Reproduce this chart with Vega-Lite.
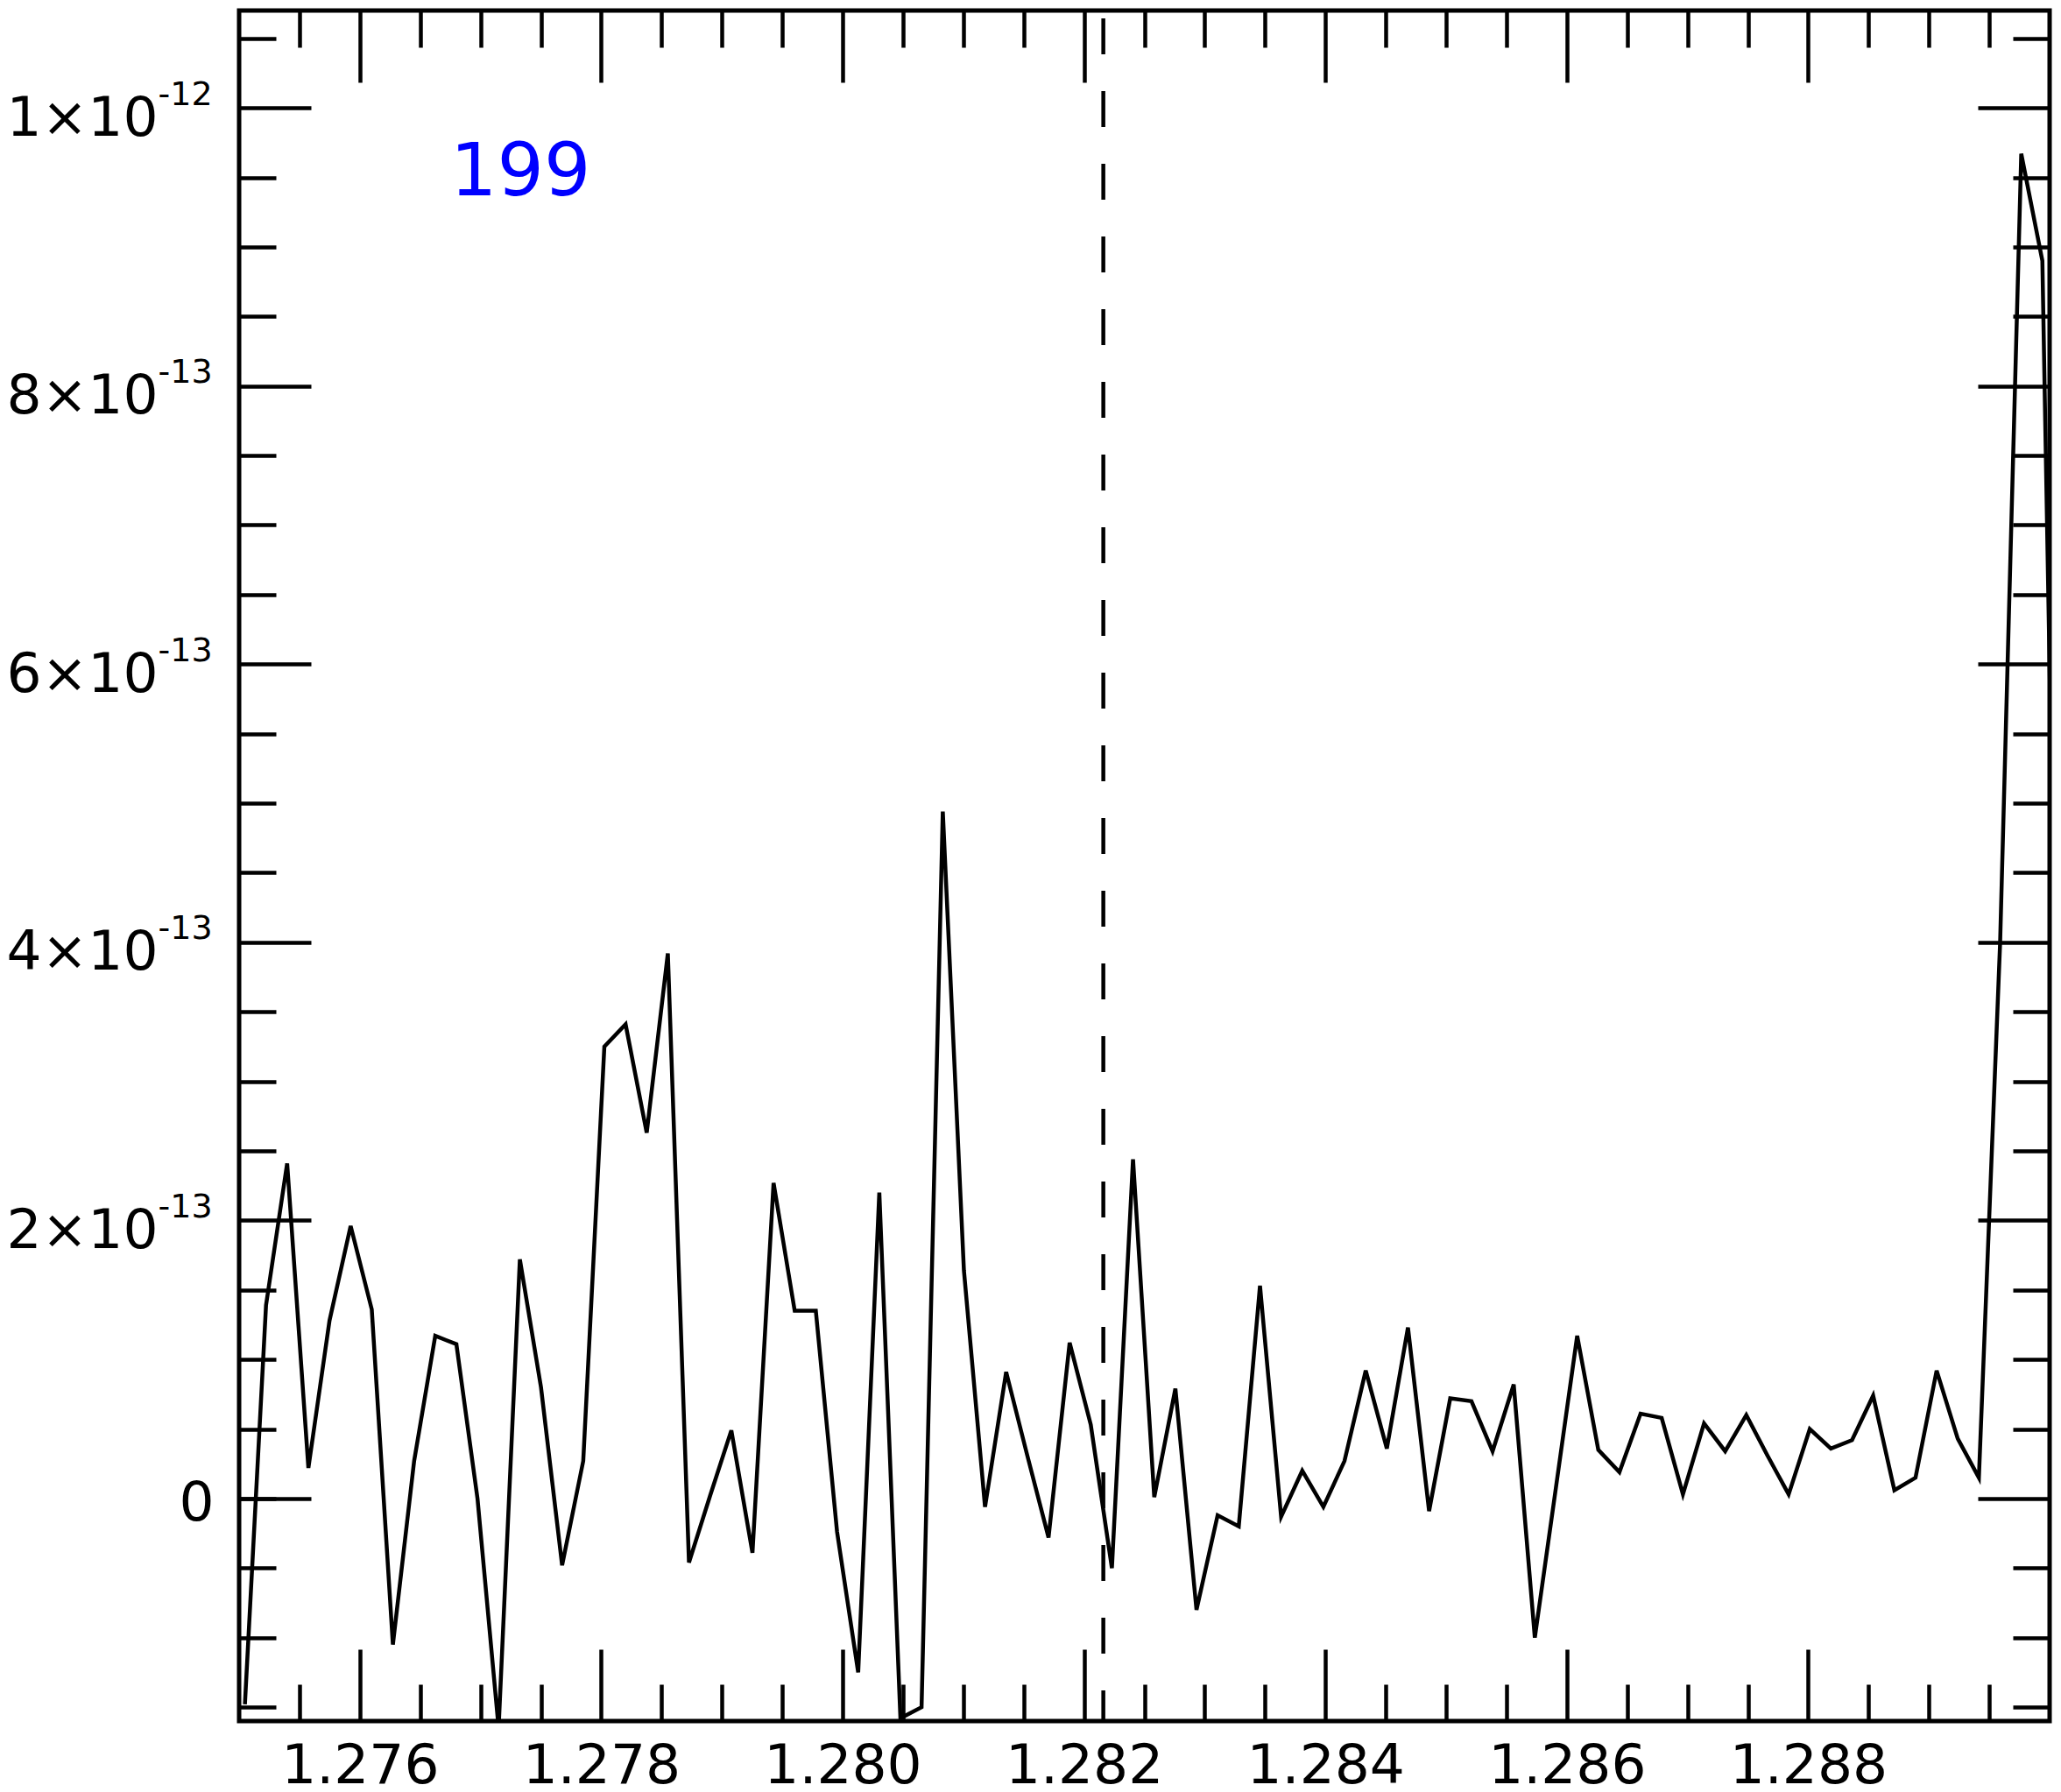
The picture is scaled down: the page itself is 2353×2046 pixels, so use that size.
{
  "$schema": "https://vega.github.io/schema/vega-lite/v6.json",
  "width": 2067,
  "height": 1953,
  "autosize": "none",
  "padding": {"left": 273, "top": 12, "right": 13, "bottom": 81},
  "background": "white",
  "config": {
    "view": {"stroke": "black", "strokeWidth": 5},
    "axis": {
      "title": null,
      "grid": false,
      "domain": false,
      "tickColor": "black",
      "tickWidth": 4.5,
      "labelFont": "DejaVu Sans",
      "labelFontSize": 63,
      "labelColor": "black",
      "labelFlush": false,
      "labelOverlap": false,
      "labelBound": false,
      "labelLimit": 1000
    }
  },
  "datasets": {
    "spec": [
      {"x": 1.275048, "y": -1.48e-13},
      {"x": 1.275223, "y": 1.39e-13},
      {"x": 1.275398, "y": 2.41e-13},
      {"x": 1.275574, "y": 0.22e-13},
      {"x": 1.275749, "y": 1.28e-13},
      {"x": 1.275924, "y": 1.96e-13},
      {"x": 1.276099, "y": 1.36e-13},
      {"x": 1.276274, "y": -1.05e-13},
      {"x": 1.27645, "y": 0.27e-13},
      {"x": 1.276625, "y": 1.17e-13},
      {"x": 1.2768, "y": 1.11e-13},
      {"x": 1.276975, "y": 0.0},
      {"x": 1.27715, "y": -1.65e-13},
      {"x": 1.277326, "y": 1.72e-13},
      {"x": 1.277501, "y": 0.8e-13},
      {"x": 1.277676, "y": -0.48e-13},
      {"x": 1.277851, "y": 0.27e-13},
      {"x": 1.278026, "y": 3.25e-13},
      {"x": 1.278202, "y": 3.41e-13},
      {"x": 1.278377, "y": 2.63e-13},
      {"x": 1.278552, "y": 3.92e-13},
      {"x": 1.278727, "y": -0.46e-13},
      {"x": 1.278902, "y": 0.02e-13},
      {"x": 1.279078, "y": 0.49e-13},
      {"x": 1.279253, "y": -0.39e-13},
      {"x": 1.279428, "y": 2.27e-13},
      {"x": 1.279603, "y": 1.35e-13},
      {"x": 1.279778, "y": 1.35e-13},
      {"x": 1.279954, "y": -0.24e-13},
      {"x": 1.280129, "y": -1.25e-13},
      {"x": 1.280304, "y": 2.2e-13},
      {"x": 1.280479, "y": -1.58e-13},
      {"x": 1.280654, "y": -1.5e-13},
      {"x": 1.28083, "y": 4.94e-13},
      {"x": 1.281005, "y": 1.64e-13},
      {"x": 1.28118, "y": -0.06e-13},
      {"x": 1.281355, "y": 0.91e-13},
      {"x": 1.28153, "y": 0.31e-13},
      {"x": 1.281706, "y": -0.28e-13},
      {"x": 1.281881, "y": 1.12e-13},
      {"x": 1.282056, "y": 0.53e-13},
      {"x": 1.282231, "y": -0.5e-13},
      {"x": 1.282406, "y": 2.44e-13},
      {"x": 1.282582, "y": 0.01e-13},
      {"x": 1.282757, "y": 0.79e-13},
      {"x": 1.282932, "y": -0.8e-13},
      {"x": 1.283107, "y": -0.12e-13},
      {"x": 1.283282, "y": -0.2e-13},
      {"x": 1.283458, "y": 1.53e-13},
      {"x": 1.283633, "y": -0.13e-13},
      {"x": 1.283808, "y": 0.2e-13},
      {"x": 1.283983, "y": -0.06e-13},
      {"x": 1.284158, "y": 0.27e-13},
      {"x": 1.284334, "y": 0.92e-13},
      {"x": 1.284509, "y": 0.36e-13},
      {"x": 1.284684, "y": 1.23e-13},
      {"x": 1.284859, "y": -0.09e-13},
      {"x": 1.285034, "y": 0.72e-13},
      {"x": 1.28521, "y": 0.7e-13},
      {"x": 1.285385, "y": 0.34e-13},
      {"x": 1.28556, "y": 0.82e-13},
      {"x": 1.285735, "y": -1.0e-13},
      {"x": 1.28591, "y": 0.08e-13},
      {"x": 1.286086, "y": 1.17e-13},
      {"x": 1.286261, "y": 0.35e-13},
      {"x": 1.286436, "y": 0.19e-13},
      {"x": 1.286611, "y": 0.61e-13},
      {"x": 1.286786, "y": 0.58e-13},
      {"x": 1.286962, "y": 0.03e-13},
      {"x": 1.287137, "y": 0.54e-13},
      {"x": 1.287312, "y": 0.34e-13},
      {"x": 1.287487, "y": 0.6e-13},
      {"x": 1.287662, "y": 0.31e-13},
      {"x": 1.287838, "y": 0.03e-13},
      {"x": 1.288013, "y": 0.5e-13},
      {"x": 1.288188, "y": 0.36e-13},
      {"x": 1.288363, "y": 0.42e-13},
      {"x": 1.288538, "y": 0.74e-13},
      {"x": 1.288714, "y": 0.06e-13},
      {"x": 1.288889, "y": 0.15e-13},
      {"x": 1.289064, "y": 0.92e-13},
      {"x": 1.289239, "y": 0.43e-13},
      {"x": 1.289414, "y": 0.15e-13},
      {"x": 1.28959, "y": 4.0e-13},
      {"x": 1.289765, "y": 9.67e-13},
      {"x": 1.28994, "y": 8.9e-13},
      {"x": 1.290115, "y": 0.35e-13}
    ],
    "label": [{"text": "199", "x": 1.276749, "y": 9.373e-13}],
    "marker": [{"x": 1.28216}]
  },
  "resolve": {"axis": {"x": "independent", "y": "independent"}},
  "layer": [
    {
      "data": {"name": "spec"},
      "mark": {"type": "line", "color": "black", "strokeWidth": 4.5, "clip": true},
      "encoding": {
        "x": {
          "field": "x", "type": "quantitative",
          "scale": {"domain": [1.275, 1.29], "nice": false, "zero": false},
          "axis": {
            "orient": "bottom",
            "values": [1.276, 1.278, 1.28, 1.282, 1.284, 1.286, 1.288],
            "tickSize": -82,
            "labelPadding": 102,
            "format": ".3f"
          }
        },
        "y": {
          "field": "y", "type": "quantitative",
          "scale": {"domain": [-1.6e-13, 1.07e-12], "nice": false, "zero": false},
          "axis": {
            "orient": "left",
            "values": [0, 2e-13, 4e-13, 6e-13, 8e-13, 1e-12],
            "tickSize": -82,
            "labelPadding": 175,
            "labelOffset": 12,
            "labelAlign": "right",
            "labelExpr": "datum.value > 9e-13 ? '1×10' : datum.value > 7e-13 ? '8×10' : datum.value > 5e-13 ? '6×10' : datum.value > 3e-13 ? '4×10' : datum.value > 1e-13 ? '2×10' : ''"
          }
        }
      }
    },
    {
      "data": {"name": "spec"},
      "mark": {"type": "point", "opacity": 0},
      "encoding": {
        "x": {
          "field": "x", "type": "quantitative",
          "axis": {
            "orient": "bottom",
            "values": [1.2755, 1.2765, 1.277, 1.2775, 1.2785, 1.279, 1.2795, 1.2805, 1.281, 1.2815, 1.2825, 1.283, 1.2835, 1.2845, 1.285, 1.2855, 1.2865, 1.287, 1.2875, 1.2885, 1.289, 1.2895],
            "tickSize": -42,
            "labels": false
          }
        },
        "y": {
          "field": "y", "type": "quantitative",
          "axis": {
            "orient": "left",
            "values": [-1.5e-13, -1e-13, -5e-14, 0, 5e-14, 1e-13, 1.5e-13, 2.5e-13, 3e-13, 3.5e-13, 4.5e-13, 5e-13, 5.5e-13, 6.5e-13, 7e-13, 7.5e-13, 8.5e-13, 9e-13, 9.5e-13, 1.05e-12],
            "tickSize": -42,
            "labelPadding": 71,
            "labelOffset": 6,
            "labelExpr": "datum.value == 0 ? '0' : ''"
          }
        }
      }
    },
    {
      "data": {"name": "spec"},
      "mark": {"type": "point", "opacity": 0},
      "encoding": {
        "y": {
          "field": "y", "type": "quantitative",
          "axis": {
            "orient": "left",
            "values": [2e-13, 4e-13, 6e-13, 8e-13, 1e-12],
            "tickSize": 0,
            "tickWidth": 0,
            "tickOpacity": 0,
            "labelPadding": 93,
            "labelOffset": -15,
            "labelAlign": "left",
            "labelFontSize": 38,
            "labelExpr": "datum.value > 9e-13 ? '-12' : '-13'"
          }
        }
      }
    },
    {
      "data": {"name": "label"},
      "mark": {"type": "text", "color": "#0000ff", "font": "DejaVu Sans", "fontSize": 84, "align": "left", "baseline": "alphabetic"},
      "encoding": {
        "x": {
          "field": "x", "type": "quantitative",
          "axis": {
            "orient": "top",
            "values": [1.276, 1.278, 1.28, 1.282, 1.284, 1.286, 1.288],
            "tickSize": -82,
            "labels": false
          }
        },
        "y": {
          "field": "y", "type": "quantitative",
          "axis": {
            "orient": "right",
            "values": [0, 2e-13, 4e-13, 6e-13, 8e-13, 1e-12],
            "tickSize": -82,
            "labels": false
          }
        },
        "text": {"field": "text"}
      }
    },
    {
      "data": {"name": "marker"},
      "mark": {"type": "rule", "color": "black", "strokeWidth": 4.5, "strokeDash": [41, 42], "strokeDashOffset": 74},
      "encoding": {
        "x": {
          "field": "x", "type": "quantitative",
          "axis": {
            "orient": "top",
            "values": [1.2755, 1.2765, 1.277, 1.2775, 1.2785, 1.279, 1.2795, 1.2805, 1.281, 1.2815, 1.2825, 1.283, 1.2835, 1.2845, 1.285, 1.2855, 1.2865, 1.287, 1.2875, 1.2885, 1.289, 1.2895],
            "tickSize": -42,
            "labels": false
          }
        },
        "y": {
          "datum": 1.07e-12, "type": "quantitative",
          "axis": {
            "orient": "right",
            "values": [-1.5e-13, -1e-13, -5e-14, 5e-14, 1e-13, 1.5e-13, 2.5e-13, 3e-13, 3.5e-13, 4.5e-13, 5e-13, 5.5e-13, 6.5e-13, 7e-13, 7.5e-13, 8.5e-13, 9e-13, 9.5e-13, 1.05e-12],
            "tickSize": -42,
            "labels": false
          }
        },
        "y2": {"datum": -1.6e-13}
      }
    }
  ]
}
